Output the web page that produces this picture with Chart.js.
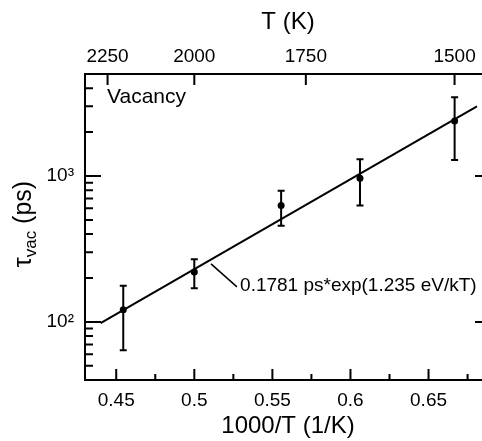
<!DOCTYPE html>
<html>
<head>
<meta charset="utf-8">
<script src="https://cdn.jsdelivr.net/npm/chart.js@4.4.1/dist/chart.umd.min.js"></script>
<style>
    html, body { margin: 0; padding: 0; background: #fff; overflow: hidden; }
    #wrap { width: 482px; height: 441px; overflow: hidden; }
</style>
</head>
<body>
<!-- the plot box runs a few pixels past the right edge, as in the source figure -->
<div id="wrap"><canvas id="chart" width="491" height="441"></canvas></div>
<script>
// vacancy lifetime against 1000/T
var invT = [0.4545, 0.5, 0.5556, 0.6061, 0.6667];
var tauVac = [121, 220, 627, 964, 2380];
var tauLow = [64, 170, 457, 627, 1287];
var tauHigh = [177, 269, 793, 1301, 3458];

// Arrhenius fit line, its two drawn ends
var fitX = [0.44, 0.681];
var fitY = [98, 3000];

// leader line from the fit to its label
var leaderX = [0.5107, 0.5273];
var leaderY = [250, 174];

// tick labels
var xTicks = [0.45, 0.5, 0.55, 0.6, 0.65];
var xMinorTicks = [0.475, 0.525, 0.575, 0.625, 0.675];
var tempTicks = [2250, 2000, 1750, 1500];
var yTicks = [100, 1000];
var yMinorTicks = [50, 60, 70, 80, 90, 200, 300, 400, 500, 600, 700, 800, 900, 2000, 3000, 4000];

var black = '#000';
var family = '"Liberation Sans", Arial, Helvetica, sans-serif';
var sup = {2: '\u00b2', 3: '\u00b3'};

function pairs(xs, ys) {
    return xs.map(function (x, i) { return {x: x, y: ys[i]}; });
}

// no label overflow padding
function noHPad(s) { s.paddingLeft = 0; s.paddingRight = 0; }

// error bars go under the markers
var errorBars = {
    id: 'errorBars',
    beforeDatasetsDraw: function (chart) {
        var ctx = chart.ctx, x = chart.scales.x, y = chart.scales.y;
        ctx.save();
        ctx.strokeStyle = black;
        ctx.lineWidth = 2;
        invT.forEach(function (v, i) {
            var px = x.getPixelForValue(v);
            var top = y.getPixelForValue(tauHigh[i]);
            var bot = y.getPixelForValue(tauLow[i]);
            ctx.beginPath();
            ctx.moveTo(px, top); ctx.lineTo(px, bot);
            ctx.moveTo(px - 3.5, top); ctx.lineTo(px + 3.5, top);
            ctx.moveTo(px - 3.5, bot); ctx.lineTo(px + 3.5, bot);
            ctx.stroke();
        });
        ctx.restore();
    }
};

// box and inward ticks
var frame = {
    id: 'frame',
    afterDatasetsDraw: function (chart) {
        var ctx = chart.ctx, a = chart.chartArea;
        var x = chart.scales.x, xt = chart.scales.xTop, y = chart.scales.y;
        ctx.save();
        ctx.strokeStyle = black;
        ctx.lineWidth = 2;
        ctx.strokeRect(a.left, a.top, a.right - a.left, a.bottom - a.top);
        ctx.beginPath();
        xTicks.forEach(function (v) {
            var px = x.getPixelForValue(v);
            ctx.moveTo(px, a.bottom); ctx.lineTo(px, a.bottom - 11);
        });
        xMinorTicks.forEach(function (v) {
            var px = x.getPixelForValue(v);
            ctx.moveTo(px, a.bottom); ctx.lineTo(px, a.bottom - 6);
        });
        tempTicks.forEach(function (t) {
            var px = xt.getPixelForValue(1000 / t);
            ctx.moveTo(px, a.top); ctx.lineTo(px, a.top + 11);
        });
        yTicks.forEach(function (v) {
            var py = y.getPixelForValue(v);
            ctx.moveTo(a.left, py); ctx.lineTo(a.left + 16, py);
            ctx.moveTo(a.right, py); ctx.lineTo(a.right - 16, py);
        });
        yMinorTicks.forEach(function (v) {
            var py = y.getPixelForValue(v);
            ctx.moveTo(a.left, py); ctx.lineTo(a.left + 8, py);
            ctx.moveTo(a.right, py); ctx.lineTo(a.right - 8, py);
        });
        ctx.stroke();
        ctx.restore();
    }
};

// y title with subscript, panel label and fit label
var labels = {
    id: 'labels',
    afterDraw: function (chart) {
        var ctx = chart.ctx, x = chart.scales.x, y = chart.scales.y;
        ctx.save();
        ctx.fillStyle = black;

        ctx.font = '21px ' + family;
        ctx.textAlign = 'left';
        ctx.textBaseline = 'middle';
        ctx.fillText('Vacancy', x.getPixelForValue(0.4441), y.getPixelForValue(3475));

        ctx.font = '19px ' + family;
        ctx.fillText('0.1781 ps*exp(1.235 eV/kT)', x.getPixelForValue(0.5293), y.getPixelForValue(176));

        ctx.translate(23, 224);
        ctx.rotate(-Math.PI / 2);
        ctx.textBaseline = 'alphabetic';
        ctx.font = '25px ' + family;
        var w1 = ctx.measureText('\u03c4').width;
        var w3 = ctx.measureText(' (ps)').width;
        ctx.font = '17px ' + family;
        var w2 = ctx.measureText('vac').width;
        var start = -(w1 + w2 + w3) / 2;
        ctx.font = '25px ' + family;
        ctx.fillText('\u03c4', start, 8);
        ctx.fillText(' (ps)', start + w1 + w2, 8);
        ctx.font = '17px ' + family;
        ctx.fillText('vac', start + w1, 13);
        ctx.restore();
    }
};

new Chart(document.getElementById('chart').getContext('2d'), {
    type: 'scatter',
    data: {
        datasets: [{
            label: 'fit',
            data: pairs(fitX, fitY),
            showLine: true,
            borderColor: black,
            borderWidth: 2,
            pointRadius: 0
        }, {
            label: 'leader',
            data: pairs(leaderX, leaderY),
            showLine: true,
            borderColor: black,
            borderWidth: 1.5,
            pointRadius: 0
        }, {
            label: 'Vacancy',
            data: pairs(invT, tauVac),
            pointRadius: 3.5,
            backgroundColor: black,
            borderWidth: 0
        }]
    },
    options: {
        responsive: false,
        animation: false,
        devicePixelRatio: 1,
        events: [],
        layout: {autoPadding: false, padding: 0},
        plugins: {legend: {display: false}, tooltip: {enabled: false}},
        scales: {
            x: {
                type: 'linear',
                position: 'bottom',
                min: 0.43,
                max: 0.69,
                afterBuildTicks: function (s) { s.ticks = xTicks.map(function (v) { return {value: v}; }); },
                afterFit: function (s) { s.height = 61; noHPad(s); },
                grid: {display: false, drawTicks: false},
                border: {display: false},
                ticks: {
                    color: black, padding: 9, maxRotation: 0, autoSkip: false,
                    font: {family: family, size: 19},
                    callback: function (v) { return String(v); }
                },
                title: {display: true, text: '1000/T (1/K)', color: black, padding: 0, font: {family: family, size: 24}}
            },
            xTop: {
                type: 'linear',
                position: 'top',
                min: 0.43,
                max: 0.69,
                afterBuildTicks: function (s) { s.ticks = tempTicks.map(function (t) { return {value: 1000 / t}; }); },
                afterFit: function (s) { s.height = 74; noHPad(s); },
                grid: {display: false, drawTicks: false},
                border: {display: false},
                ticks: {
                    color: black, padding: 6, maxRotation: 0, autoSkip: false,
                    font: {family: family, size: 19},
                    callback: function (v, i) { return String(tempTicks[i]); }
                },
                title: {display: true, text: 'T (K)', color: black, padding: {top: 8, bottom: 0}, font: {family: family, size: 24}}
            },
            y: {
                type: 'logarithmic',
                position: 'left',
                min: 40,
                max: 5000,
                afterBuildTicks: function (s) { s.ticks = yTicks.map(function (v) { return {value: v}; }); },
                afterFit: function (s) { s.width = 85; s.paddingTop = 0; s.paddingBottom = 0; },
                grid: {display: false, drawTicks: false},
                border: {display: false},
                ticks: {
                    color: black, padding: 11, autoSkip: false,
                    font: {family: family, size: 19},
                    callback: function (v) { return '10' + sup[Math.round(Math.log10(v))]; }
                }
            }
        }
    },
    plugins: [errorBars, frame, labels]
});
</script>
</body>
</html>
